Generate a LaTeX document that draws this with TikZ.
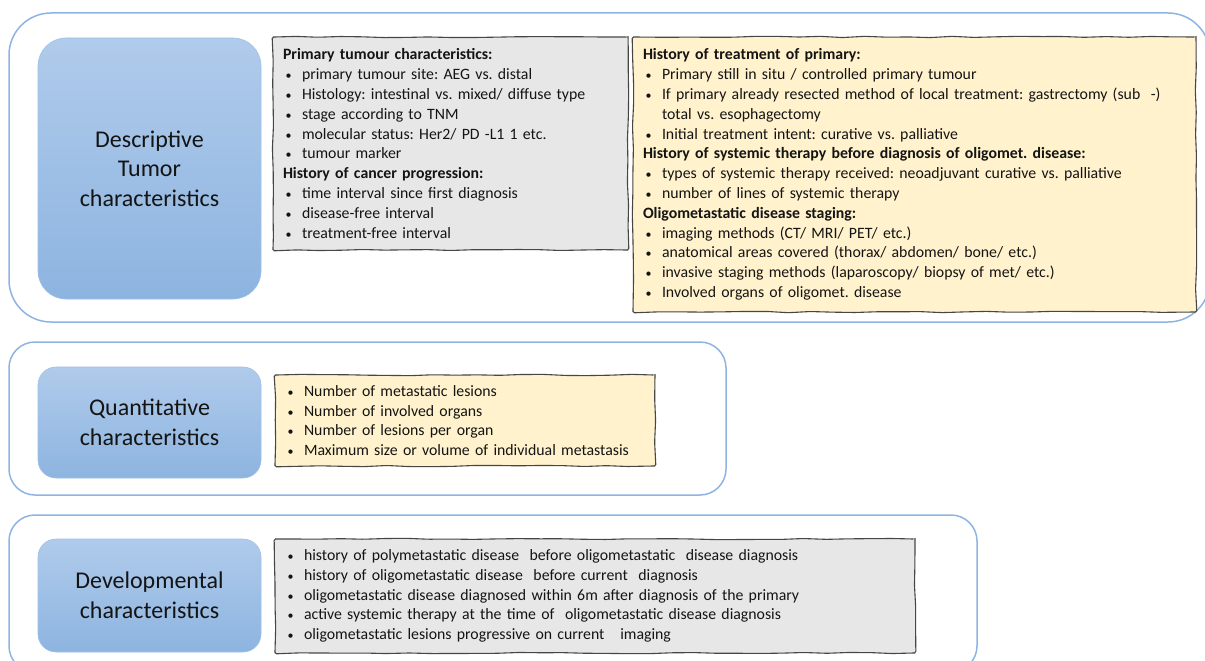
\documentclass[tikz,border=0pt]{standalone}
\usepackage{fontspec}
\setmainfont{Carlito}
\usetikzlibrary{decorations.pathmorphing}
\definecolor{outerblue}{RGB}{141,180,226}
\definecolor{bluetop}{RGB}{176,203,235}
\definecolor{bluebot}{RGB}{141,180,224}
\definecolor{blueedge}{RGB}{160,192,230}
\definecolor{graybox}{RGB}{231,231,231}
\definecolor{yellowbox}{RGB}{255,242,204}
\definecolor{sketchline}{RGB}{70,70,70}
\definecolor{txt}{RGB}{20,20,20}
\newcommand\itm{\makebox[19pt][l]{\hspace{2.5pt}{\fontsize{12}{12}\selectfont\textbullet}}}
\frenchspacing
\begin{document}
\begin{tikzpicture}[x=1pt,y=-1pt,
  outerbox/.style={draw=outerblue, line width=1.5pt, rounded corners=#1, fill=white, inner sep=0pt},
  catbox/.style={rounded corners=#1, top color=bluetop, bottom color=bluebot, draw=blueedge, line width=0.6pt,
     align=center, inner sep=0pt, text=txt, font=\fontsize{24}{29.5}\selectfont},
  sketchbox/.style={draw=sketchline, line width=1.1pt, decorate,
     decoration={random steps, segment length=22pt, amplitude=0.7pt}, rounded corners=1.5pt,
     inner xsep=10pt, inner ysep=0pt, align=left, text=txt, font=\fontsize{15.8}{19.8}\selectfont}]
\pgfmathsetseed{11}
\useasboundingbox (0,0) rectangle (1205,661);
\clip (0,0) rectangle (1205,661);
\fill[white] (0,0) rectangle (1205,661);

% outer frames
\node[outerbox=42pt, minimum width=1201pt, minimum height=309pt] (o1) at (609.5,167.5) {};
\node[outerbox=26pt, minimum width=717pt, minimum height=153pt] (o2) at (367.5,418.5) {};
\node[outerbox=26pt, minimum width=968pt, minimum height=157pt] (o3) at (493,593.5) {};

% category boxes
\node[catbox=28pt, minimum width=223pt, minimum height=261pt] (c1) at (149.5,168.5)
  {Descriptive\\Tumor\\characteristics};
\node[catbox=18pt, minimum width=223pt, minimum height=111pt] (c2) at (149.5,422.5)
  {Quantitative\\characteristics};
\node[catbox=18pt, minimum width=223pt, minimum height=113pt] (c3) at (149.5,595.5)
  {Developmental\\characteristics};

% content boxes
\node[sketchbox, fill=graybox, text width=335pt, minimum height=213pt] (g1) at (450.5,143.5)
  {\textbf{Primary tumour characteristics:}\\
   \itm primary tumour site: AEG vs. distal\\
   \itm Histology: intestinal vs. mixed/ diffuse type\\
   \itm stage according to TNM\\
   \itm molecular status: Her2/ PD\ -L1 1 etc.\\
   \itm tumour marker\\
   \textbf{History of cancer progression:}\\
   \itm time interval since first diagnosis\\
   \itm disease-free interval\\
   \itm treatment-free interval};

\node[sketchbox, fill=yellowbox, text width=543pt, minimum height=275pt] (y1) at (914.5,174.5)
  {\textbf{History of treatment of primary:}\\
   \itm Primary still in situ / controlled primary tumour\\
   \itm If primary already resected method of local treatment: gastrectomy (sub\ \ -)\\
   \hspace*{19pt}total vs. esophagectomy\\
   \itm Initial treatment intent: curative vs. palliative\\
   \textbf{History of systemic therapy before diagnosis of oligomet. disease:}\\
   \itm types of systemic therapy received: neoadjuvant curative vs. palliative\\
   \itm number of lines of systemic therapy\\
   \textbf{Oligometastatic disease staging:}\\
   \itm imaging methods (CT/ MRI/ PET/ etc.)\\
   \itm anatomical areas covered (thorax/ abdomen/ bone/ etc.)\\
   \itm invasive staging methods (laparoscopy/ biopsy of met/ etc.)\\
   \itm Involved organs of oligomet. disease};

\node[sketchbox, fill=yellowbox, text width=360pt, minimum height=91pt] (y2) at (465,420.5)
  {\itm Number of metastatic lesions\\
   \itm Number of involved organs\\
   \itm Number of lesions per organ\\
   \itm Maximum size or volume of individual metastasis};

\node[sketchbox, fill=graybox, text width=620pt, minimum height=114pt] (g3) at (595,596)
  {\itm history of polymetastatic disease\ \ before oligometastatic\ \ disease diagnosis\\
   \itm history of oligometastatic disease\ \ before current\ \ diagnosis\\
   \itm oligometastatic disease diagnosed within 6m after diagnosis of the primary\\
   \itm active systemic therapy at the time of\ \ oligometastatic disease diagnosis\\
   \itm oligometastatic lesions progressive on current\ \ \ imaging};
\end{tikzpicture}
\end{document}
